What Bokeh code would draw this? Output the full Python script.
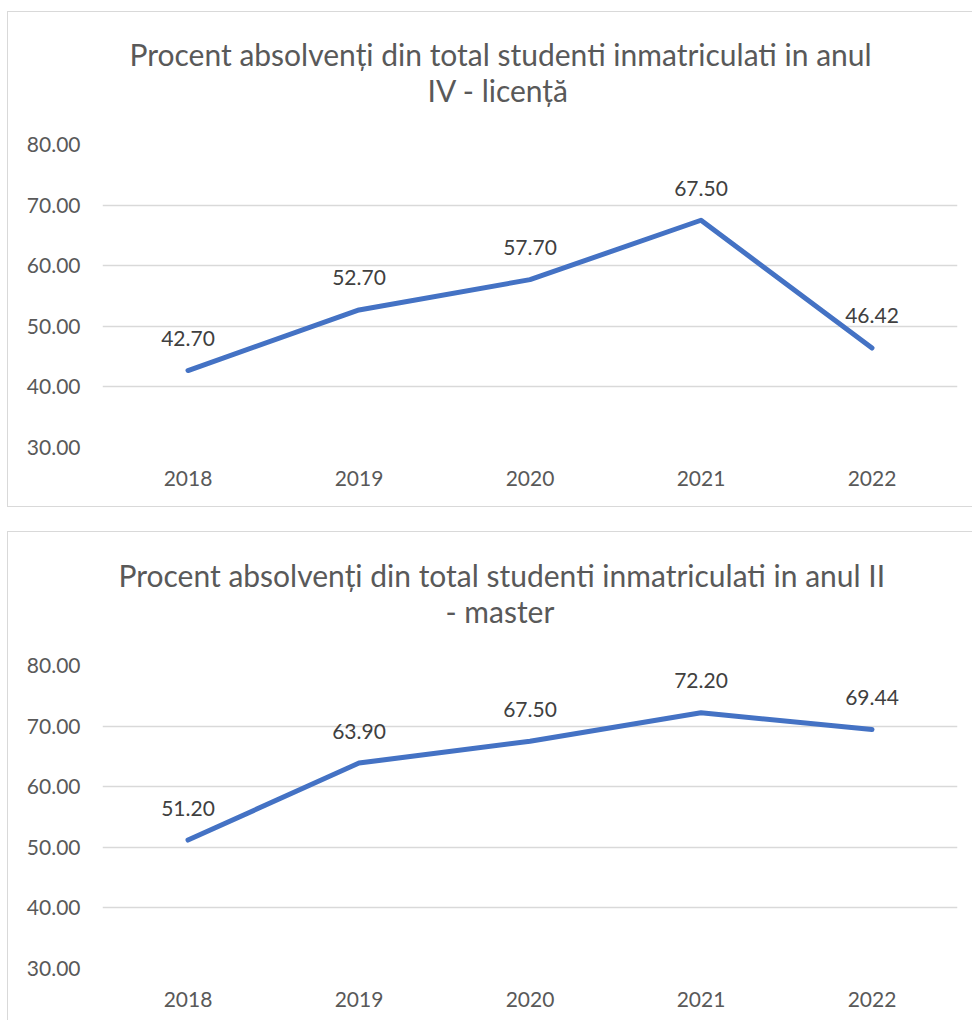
from bokeh.plotting import figure
from bokeh.models import Range1d, FixedTicker, PrintfTickFormatter, Title, Spacer
from bokeh.layouts import column, row
from bokeh.core.properties import value
from bokeh.embed import file_html
from bokeh.resources import INLINE

years = ["2018", "2019", "2020", "2021", "2022"]
licenta = [42.70, 52.70, 57.70, 67.50, 46.42]
master = [51.20, 63.90, 67.50, 72.20, 69.44]
y_ticks = [30, 40, 50, 60, 70, 80]
title_lic = ["Procent absolvenți din total studenti inmatriculati in anul", "IV  - licență"]
title_mas = ["Procent absolvenți din total studenti inmatriculati in anul II", "- master"]

FONT = "Lato"
GRID = "#d9d9d9"
TXT = "#595959"
LINE = "#4472C4"


def make_chart(titles, offsets, vals, height, top, bottom, styles):
    p = figure(x_range=years, y_range=Range1d(30, 80), width=965, height=height,
               output_backend="svg", toolbar_location=None, title=None,
               min_border_left=94, min_border_right=16, min_border_top=top,
               min_border_bottom=bottom, outline_line_color=None,
               background_fill_color="white", border_fill_color="white")
    p.styles = styles
    p.add_layout(Title(text=titles[1], align="left", offset=offsets[1],
                       text_font=FONT, text_font_size="30px", text_font_style="normal",
                       text_color=TXT, standoff=74), "above")
    p.add_layout(Title(text=titles[0], align="left", offset=offsets[0],
                       text_font=FONT, text_font_size="30px", text_font_style="normal",
                       text_color=TXT, standoff=-78), "above")
    p.yaxis.ticker = FixedTicker(ticks=y_ticks)
    p.yaxis.formatter = PrintfTickFormatter(format="%.2f")
    for ax in (p.xaxis[0], p.yaxis[0]):
        ax.axis_line_color = None
        ax.major_tick_line_color = None
        ax.minor_tick_line_color = None
        ax.major_tick_out = 0
        ax.major_tick_in = 0
        ax.major_label_text_font = FONT
        ax.major_label_text_font_size = "21px"
        ax.major_label_text_color = TXT
    p.yaxis.major_label_standoff = 22
    p.xaxis.major_label_standoff = 23
    p.xgrid.grid_line_color = None
    p.ygrid.grid_line_color = GRID
    p.ygrid.grid_line_width = 1.5
    p.line(x=years, y=vals, line_color=LINE, line_width=5,
           line_join="round", line_cap="round")
    p.text(x=years, y=vals, text=[f"{v:.2f}" for v in vals],
           text_font=value(FONT), text_font_size="21px", text_color="#404040",
           text_align="center", text_baseline="middle", y_offset=-32)
    return p


border = "1px solid #d9d9d9"
p1 = make_chart(title_lic, (27, 325), licenta, 496, 132, 61,
                {"border-top": border, "border-left": border, "border-bottom": border})
p2 = make_chart(title_mas, (16, 343), master, 489, 133, 53,
                {"border-top": border, "border-left": border})
layout = row(Spacer(width=7),
             column(Spacer(height=11), p1, Spacer(height=24), p2, spacing=0),
             spacing=0)
open("out.html", "w").write(file_html(layout, INLINE))
